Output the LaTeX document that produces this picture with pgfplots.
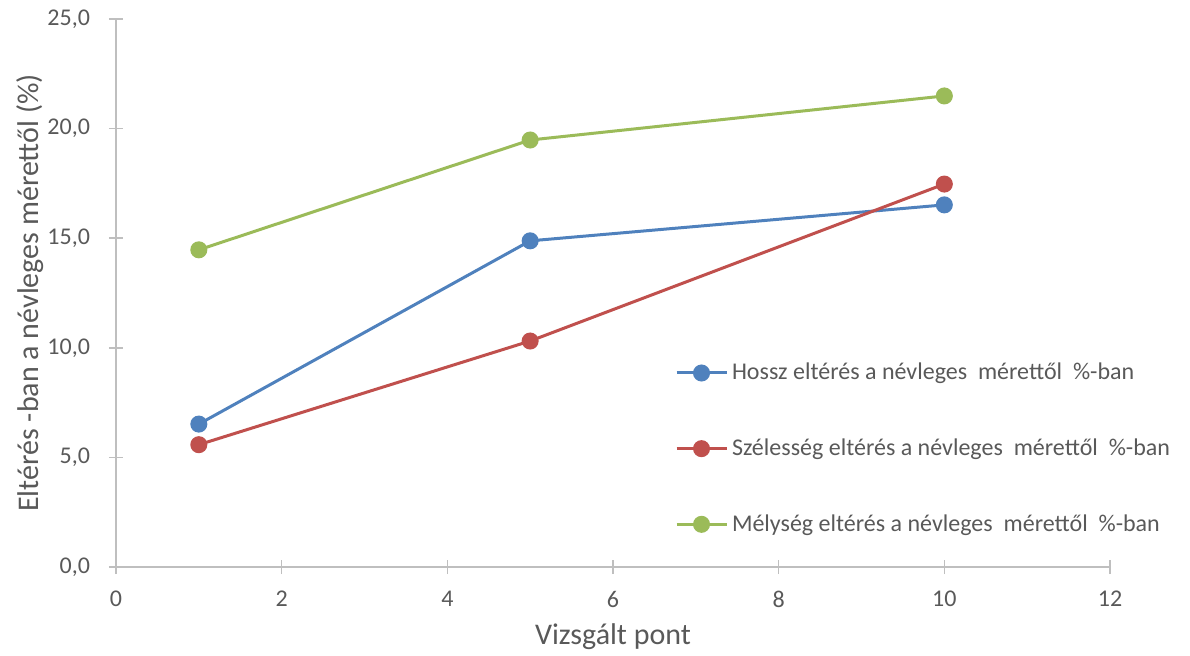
\documentclass[border=0pt]{standalone}
\usepackage{fontspec}
\setmainfont{Carlito}
\usepackage{pgfplots}
\pgfplotsset{compat=1.18}
\definecolor{cblue}{HTML}{4F81BD}
\definecolor{cred}{HTML}{C0504D}
\definecolor{cgreen}{HTML}{9BBB59}
\definecolor{txt}{HTML}{595959}
\definecolor{axc}{HTML}{BFBFBF}
\begin{document}
\begin{tikzpicture}
\useasboundingbox (-58pt,-44pt) rectangle (537pt,283.5pt);
\begin{axis}[
  at={(0,0)}, anchor=south west,
  scale only axis, width=497pt, height=274pt,
  xmin=0, xmax=12, ymin=0, ymax=25,
  xtick={0,2,...,12}, ytick={0,5,...,25},
  axis lines*=left,
  axis line style={draw=axc, line width=0.75pt, -},
  tick style={draw=axc, line width=0.75pt},
  tick align=center, major tick length=7pt,
  /pgf/number format/assume math mode=true,
  ticklabel style={font=\fontsize{12}{14}\selectfont, text=txt},
  yticklabel style={xshift=-6pt, /pgf/number format/.cd, fixed, fixed zerofill, precision=1, use comma},
  xticklabel style={yshift=-5pt},
  xlabel={Vizsgált pont},
  ylabel={Eltérés -ban a névleges mérettől (\%)},
  label style={font=\fontsize{15}{17}\selectfont, text=txt},
  x label style={at={(axis description cs:0.5,-0.128)}, anchor=center},
  y label style={at={(axis description cs:-0.0865,0.5)}, anchor=center},
  legend cell align=left,
  legend style={at={(rel axis cs:0.562,0.38)}, anchor=north west, draw=none, fill=none,
    font=\fontsize{12}{14}\selectfont, text=txt, row sep=24pt, inner sep=0pt,
    /tikz/every even column/.append style={column sep=4pt}},
  legend image code/.code={\draw[#1, mark repeat=2, mark phase=2] plot coordinates {(0pt,0pt) (12.5pt,0pt) (25pt,0pt)};},
  every axis plot/.append style={line width=1.5pt, mark=*, mark size=3.5pt},
]
\addplot[cblue, mark options={fill=cblue, draw=cblue}] coordinates {(1,6.52) (5,14.88) (10,16.52)};
\addlegendentry{Hossz eltérés a névleges\ \ mérettől\ \ \%-ban}
\addplot[cred, mark options={fill=cred, draw=cred}] coordinates {(1,5.58) (5,10.31) (10,17.47)};
\addlegendentry{Szélesség eltérés a névleges\ \ mérettől\ \ \%-ban}
\addplot[cgreen, mark options={fill=cgreen, draw=cgreen}] coordinates {(1,14.47) (5,19.48) (10,21.49)};
\addlegendentry{Mélység eltérés a névleges\ \ mérettől\ \ \%-ban}
\end{axis}
\end{tikzpicture}
\end{document}
